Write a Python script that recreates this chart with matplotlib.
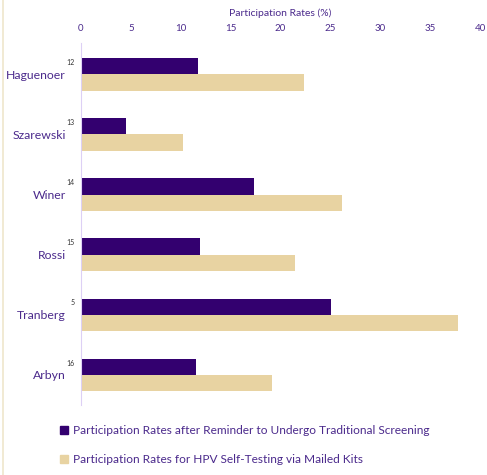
import matplotlib
matplotlib.use("Agg")
import matplotlib.pyplot as plt
from matplotlib.lines import Line2D
import numpy as np

plt.rcParams['font.family'] = ['Lato', 'DejaVu Sans']

# data
studies = ['Haguenoer', 'Szarewski', 'Winer', 'Rossi', 'Tranberg', 'Arbyn']
refs = ['12', '13', '14', '15', '5', '16']
reminder = [11.7, 4.5, 17.3, 11.9, 25.1, 11.5]
self_test = [22.4, 10.2, 26.2, 21.5, 37.8, 19.1]
x_ticks = [0, 5, 10, 15, 20, 25, 30, 35, 40]
series_names = ['Participation Rates after Reminder to Undergo Traditional Screening',
                'Participation Rates for HPV Self-Testing via Mailed Kits']

dark = '#33006f'
gold = '#e8d3a2'
text_purple = '#4b2a8c'

fig = plt.figure(figsize=(4.87, 4.75), dpi=100)
ax = fig.add_axes([81 / 487, 1 - 405 / 475, 399 / 487, 362 / 475])

y = np.arange(len(studies))
h = 0.27
ax.barh(y - h / 2, reminder, height=h, color=dark)
ax.barh(y + h / 2, self_test, height=h, color=gold)

ax.set_xlim(0, 40)
ax.set_ylim(len(studies) - 0.5, -0.52)
ax.set_xticks(x_ticks)
ax.xaxis.tick_top()
ax.xaxis.set_label_position('top')
ax.tick_params(axis='x', length=0, pad=7, labelsize=7, labelcolor=text_purple)
ax.set_xlabel('Participation Rates (%)', fontsize=7.5, color=text_purple, labelpad=6)

ax.set_yticks(y)
ax.set_yticklabels(studies)
ax.tick_params(axis='y', length=0, pad=11, labelsize=8.8, labelcolor=text_purple)

for s in ['top', 'right', 'bottom']:
    ax.spines[s].set_visible(False)
ax.spines['left'].set_color('#ddd0f5')
ax.spines['left'].set_linewidth(0.8)

for i, r in enumerate(refs):
    ax.annotate(r, xy=(0, i), xycoords='data', xytext=(-4.5, 8.5),
                textcoords='offset points', ha='right', va='center',
                fontsize=5, color='#333333', annotation_clip=False)

handles = [Line2D([0], [0], marker='s', linestyle='none', markersize=5.5,
                  markerfacecolor=c, markeredgecolor=c) for c in (dark, gold)]
leg = fig.legend(handles, series_names, loc='upper left',
                 bbox_to_anchor=(54 / 487, 1 - 420 / 475), frameon=False,
                 fontsize=8.6, handlelength=0.8, handletextpad=0.4,
                 labelspacing=1.5, borderaxespad=0)
for t in leg.get_texts():
    t.set_color(text_purple)

# thin beige frame line on the left edge
fig.add_artist(Line2D([2.5 / 487, 2.5 / 487], [0, 1], color='#efe6cc', linewidth=1.2,
                      transform=fig.transFigure))

fig.savefig('out.png', dpi=100)
